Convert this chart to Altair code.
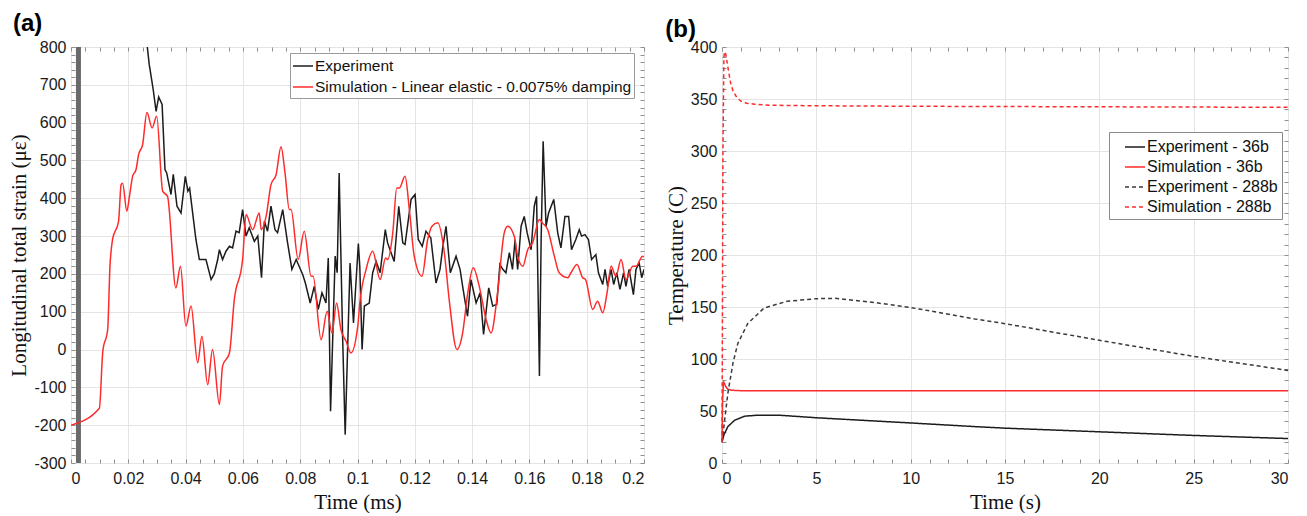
import altair as alt
import pandas as pd

# ---------------- Panel (a): strain vs time ----------------
a_series = ["Experiment", "Simulation - Linear elastic - 0.0075% damping"]
a_colors = ["#1c1c1c", "#ff2b2b"]

a_exp_t = [0.0262, 0.0273, 0.0276, 0.0287, 0.0297, 0.0306, 0.0318, 0.0328, 0.0334, 0.0349,
           0.0357, 0.0370, 0.0384, 0.0399, 0.0408, 0.0414, 0.0436, 0.0448, 0.0471, 0.0489,
           0.0500, 0.0512, 0.0518, 0.0529, 0.0541, 0.0553, 0.0564, 0.0576, 0.0587, 0.0599,
           0.0611, 0.0622, 0.0640, 0.0652, 0.0665, 0.0675, 0.0686, 0.0698, 0.0712, 0.0721,
           0.0739, 0.0756, 0.0771, 0.0786, 0.0809, 0.0818, 0.0835, 0.0849, 0.0863, 0.0876,
           0.0890, 0.0898, 0.0906, 0.0922, 0.0929, 0.0936, 0.0948, 0.0957, 0.0974, 0.0986,
           0.1003, 0.1008, 0.1016, 0.1024, 0.1041, 0.1053, 0.1065, 0.1079, 0.1097, 0.1105,
           0.1128, 0.1144, 0.1158, 0.1166, 0.1187, 0.1201, 0.1212, 0.1226, 0.1239, 0.1256,
           0.1274, 0.1288, 0.1298, 0.1309, 0.1324, 0.1344, 0.1358, 0.1367, 0.1384, 0.1396,
           0.1414, 0.1428, 0.1440, 0.1458, 0.1472, 0.1486, 0.1497, 0.1507, 0.1518, 0.1530,
           0.1541, 0.1550, 0.1559, 0.1571, 0.1582, 0.1592, 0.1606, 0.1617, 0.1625, 0.1635,
           0.1641, 0.1648, 0.1658, 0.1667, 0.1685, 0.1699, 0.1710, 0.1724, 0.1737, 0.1747,
           0.1762, 0.1774, 0.1782, 0.1794, 0.1806, 0.1817, 0.1832, 0.1841, 0.1856, 0.1864,
           0.1873, 0.1885, 0.1894, 0.1905, 0.1916, 0.1929, 0.1937, 0.1948, 0.1963, 0.1972,
           0.1983, 0.1992, 0.2000]
a_exp_v = [830, 754, 740, 687, 630, 668, 648, 476, 467, 410,
           463, 379, 361, 458, 419, 427, 291, 238, 238, 185,
           200, 238, 264, 238, 260, 273, 269, 313, 309, 370,
           300, 322, 286, 300, 190, 339, 313, 379, 317, 309,
           370, 282, 212, 238, 198, 176, 123, 167, 106, 150,
           123, 242, -163, 247, 203, 467, 35, -225, 229, 70,
           280, 220, 0, 115, 123, 203, 233, 203, 317, 282,
           233, 379, 282, 278, 397, 410, 291, 273, 313, 295,
           176, 212, 273, 326, 203, 247, 212, 167, 88, 185,
           123, 150, 40, 163, 115, 119, 225, 212, 203, 256,
           212, 291, 212, 326, 352, 309, 264, 379, 405, -70,
           291, 551, 326, 361, 397, 308, 269, 352, 352, 264,
           291, 317, 300, 304, 291, 238, 251, 203, 172, 212,
           167, 212, 172, 203, 159, 203, 167, 212, 145, 212,
           229, 190, 212]

a_sim_t = [0.0, 0.0099, 0.0111, 0.0128, 0.0136, 0.0145, 0.0166, 0.0175, 0.0180, 0.0195,
           0.0204, 0.0215, 0.0227, 0.0236, 0.0250, 0.0265, 0.0283, 0.0299, 0.0320, 0.0337,
           0.0366, 0.0382, 0.0401, 0.0419, 0.0442, 0.0457, 0.0477, 0.0494, 0.0518, 0.0529,
           0.0553, 0.0570, 0.0599, 0.0611, 0.0634, 0.0657, 0.0664, 0.0681, 0.0698, 0.0716,
           0.0733, 0.0747, 0.0762, 0.0768, 0.0793, 0.0814, 0.0838, 0.0845, 0.0873, 0.0894,
           0.0911, 0.0927, 0.0942, 0.0960, 0.0977, 0.1001, 0.1008, 0.1030, 0.1053, 0.1079,
           0.1098, 0.1105, 0.1123, 0.1137, 0.1146, 0.1166, 0.1181, 0.1198, 0.1225, 0.1245,
           0.1260, 0.1280, 0.1303, 0.1320, 0.1347, 0.1367, 0.1384, 0.1404, 0.1425, 0.1449,
           0.1466, 0.1489, 0.1512, 0.1524, 0.1547, 0.1559, 0.1577, 0.1594, 0.1611, 0.1635,
           0.1645, 0.1664, 0.1687, 0.1704, 0.1734, 0.1745, 0.1766, 0.1786, 0.1796, 0.1821,
           0.1838, 0.1856, 0.1871, 0.1885, 0.1902, 0.1920, 0.1937, 0.1961, 0.1972, 0.1995,
           0.2000]
a_sim_v = [-200, -155, -5, 53, 220, 291, 339, 436, 440, 366,
           405, 458, 476, 516, 542, 627, 586, 617, 419, 405,
           163, 220, 62, 115, -35, 35, -93, 0, -145, -44,
           -9, 132, 238, 357, 317, 361, 317, 352, 436, 463,
           536, 467, 370, 370, 238, 313, 194, 194, 26, 101,
           44, 123, 53, 22, -9, 62, 123, 212, 260, 185,
           242, 238, 308, 427, 427, 458, 370, 247, 194, 291,
           326, 335, 256, 132, 0, 44, 145, 216, 167, 79,
           44, 150, 308, 326, 300, 247, 220, 264, 282, 344,
           335, 317, 247, 203, 190, 203, 225, 190, 185, 106,
           128, 97, 150, 220, 194, 238, 185, 220, 220, 247,
           245]

a_marker_t = [0.0026]
a_marker_lo = [-300]
a_marker_hi = [800]

a_xticks = [0, 0.02, 0.04, 0.06, 0.08, 0.1, 0.12, 0.14, 0.16, 0.18, 0.2]
a_yticks = [-300, -200, -100, 0, 100, 200, 300, 400, 500, 600, 700, 800]
a_xminor = [round(i * 0.005, 3) for i in range(41)]
a_yminor = list(range(-300, 801, 20))

# ---------------- Panel (b): temperature vs time ----------------
b_series = ["Experiment - 36b", "Simulation - 36b", "Experiment - 288b", "Simulation - 288b"]
b_colors = ["#1c1c1c", "#ff2b2b", "#3a3a3a", "#ff2b2b"]
b_dashes = [[1, 0], [1, 0], [4, 3], [4, 3]]

b_exp36_t = [0, 0.1, 0.31, 0.66, 1.19, 1.9, 3, 5, 7.5, 10, 13.4, 15, 20, 25, 30]
b_exp36_v = [20, 27, 35, 41, 45, 46, 46, 43.5, 41, 38.5, 35, 33.5, 30, 26.5, 23.5]

b_sim36_t = [0, 0.03, 0.08, 0.12, 0.2, 0.3, 0.5, 1, 30]
b_sim36_v = [22, 60, 78, 77, 73.5, 71, 70, 69.5, 69.5]

b_exp288_t = [0, 0.1, 0.31, 0.58, 0.84, 1.36, 2.23, 3.45, 5, 6, 8.2, 10, 13.4, 15, 20, 25, 30]
b_exp288_v = [20, 35, 67, 96, 115, 134, 149, 155.5, 158, 158.3, 154, 149.5, 138.5, 134, 118, 102.5, 89]

b_sim288_t = [0, 0.05, 0.1, 0.14, 0.2, 0.31, 0.45, 0.58, 0.8, 1.0, 1.3, 1.71, 2.5, 5, 10, 20, 30]
b_sim288_v = [20, 300, 390, 395.5, 393, 381, 366, 358, 351, 348, 346, 345, 344, 343.5, 343, 342.5, 342]

b_xticks = [0, 5, 10, 15, 20, 25, 30]
b_yticks = [0, 50, 100, 150, 200, 250, 300, 350, 400]
b_xminor = list(range(0, 31, 1))
b_yminor = list(range(0, 401, 10))

# ---------------- styling ----------------
SANS = "Liberation Sans"
SERIF = "Liberation Serif"
GRID = "#e4e4e4"
TICKC = "#8f8f8f"


def frame_df(parts):
    frames = []
    for name, ts, vs in parts:
        frames.append(pd.DataFrame({"t": ts, "v": vs, "s": name, "o": list(range(len(ts)))}))
    return pd.concat(frames, ignore_index=True)


dfa_exp = frame_df([(a_series[0], a_exp_t, a_exp_v)])
dfa_sim = frame_df([(a_series[1], a_sim_t, a_sim_v)])
dfa = pd.concat([dfa_exp, dfa_sim], ignore_index=True)
dfb = frame_df([(b_series[0], b_exp36_t, b_exp36_v), (b_series[1], b_sim36_t, b_sim36_v),
                (b_series[2], b_exp288_t, b_exp288_v), (b_series[3], b_sim288_t, b_sim288_v)])
dfm = pd.DataFrame({"t": a_marker_t, "lo": a_marker_lo, "hi": a_marker_hi})


def main_axis(vals, title, orient):
    is_x = orient in ("bottom", "top")
    return alt.Axis(orient=orient, values=vals, title=title, labelExpr="'' + datum.value",
                    labelFont=SANS, labelFontSize=16, labelColor="#1a1a1a",
                    labelPadding=7 if is_x else 5,
                    ticks=False, domain=False, grid=True, gridColor=GRID, gridWidth=1,
                    titleFont=SERIF, titleFontSize=21, titleFontWeight="normal",
                    titleColor="#111111", titlePadding=5 if is_x else 4, labelOverlap=False)


def tick_axis(vals, orient):
    return alt.Axis(orient=orient, values=vals, labels=False, grid=False, domain=False,
                    ticks=True, tickSize=4, tickColor=TICKC, tickWidth=1, offset=-4, title=None,
                    minExtent=0, maxExtent=0)


def tick_layers(df, xsc, ysc, xminor, yminor):
    out = []
    for xo, yo in (("bottom", "left"), ("top", "right")):
        out.append(alt.Chart(df).mark_point(opacity=0).encode(
            x=alt.X("t:Q", scale=xsc, axis=tick_axis(xminor, xo)),
            y=alt.Y("v:Q", scale=ysc, axis=tick_axis(yminor, yo)),
        ))
    return out


def legend(x, y, pad, rowpad, stroke, size, symoff=0):
    return alt.Legend(title=None, orient="none", legendX=x, legendY=y,
                      symbolType="stroke", symbolSize=400, symbolStrokeWidth=1.5,
                      symbolOffset=symoff,
                      labelFont=SANS, labelFontSize=size, labelColor="#111111", labelLimit=0,
                      labelOffset=1, padding=pad, rowPadding=rowpad,
                      fillColor="white", strokeColor=stroke)


# ---- panel (a)
xsa = alt.Scale(domain=[0, 0.2], nice=False, zero=False)
ysa = alt.Scale(domain=[-300, 800], nice=False, zero=False)
csa = alt.Scale(domain=a_series, range=a_colors)
leg_a = legend(219, 6, 2, 1, "#9a9a9a", 15.5)

a_exp_line = alt.Chart(dfa_exp).mark_line(strokeWidth=1.5, clip=True).encode(
    x=alt.X("t:Q", scale=xsa, axis=main_axis(a_xticks, "Time (ms)", "bottom")),
    y=alt.Y("v:Q", scale=ysa, axis=main_axis(a_yticks, "Longitudinal total strain (με)", "left")),
    color=alt.Color("s:N", scale=csa, legend=leg_a),
    order="o:Q",
)
a_sim_line = alt.Chart(dfa_sim).mark_line(strokeWidth=1.5, clip=True, interpolate="monotone").encode(
    x=alt.X("t:Q", scale=xsa, axis=None),
    y=alt.Y("v:Q", scale=ysa, axis=None),
    color=alt.Color("s:N", scale=csa, legend=leg_a),
    order="o:Q",
)

a_marker = alt.Chart(dfm).mark_rule(color="#6a6a6a", strokeWidth=5).encode(
    x=alt.X("t:Q", scale=xsa, axis=None),
    y=alt.Y("lo:Q", scale=ysa, axis=None),
    y2="hi:Q",
)

panel_a = alt.layer(a_marker, a_exp_line, a_sim_line,
                    *tick_layers(dfa, xsa, ysa, a_xminor, a_yminor)).resolve_axis(
    x="independent", y="independent"
).properties(
    width=573, height=416,
    title=alt.TitleParams("(a)", anchor="start", frame="bounds", fontSize=24, fontWeight="bold",
                          font=SANS, color="#000000", offset=-3, dx=4),
)

# ---- panel (b)
xsb = alt.Scale(domain=[0, 30], nice=False, zero=False)
ysb = alt.Scale(domain=[0, 400], nice=False, zero=False)
leg_b = legend(387, 85, 4, 1, "#8a8a8a", 16, symoff=11)

b_lines = alt.Chart(dfb).mark_line(strokeWidth=1.5).encode(
    x=alt.X("t:Q", scale=xsb, axis=main_axis(b_xticks, "Time (s)", "bottom")),
    y=alt.Y("v:Q", scale=ysb, axis=main_axis(b_yticks, "Temperature (C)", "left")),
    color=alt.Color("s:N", scale=alt.Scale(domain=b_series, range=b_colors), legend=leg_b),
    strokeDash=alt.StrokeDash("s:N", scale=alt.Scale(domain=b_series, range=b_dashes),
                              legend=leg_b),
    order="o:Q",
)

panel_b = alt.layer(b_lines, *tick_layers(dfb, xsb, ysb, b_xminor, b_yminor)).resolve_axis(
    x="independent", y="independent"
).properties(
    width=566, height=416,
    title=alt.TitleParams("(b)", anchor="start", frame="bounds", fontSize=24, fontWeight="bold",
                          font=SANS, color="#000000", offset=-3),
)

chart = alt.hconcat(panel_a, panel_b, spacing=16).resolve_scale(
    x="independent", y="independent", color="independent", strokeDash="independent"
).properties(
    padding={"left": 0, "top": 3, "right": 0, "bottom": 0}
).configure_view(
    stroke="#8c8c8c", strokeWidth=1
).configure(background="white")

chart.save("out.html", embed_options={"renderer": "svg", "actions": False})
